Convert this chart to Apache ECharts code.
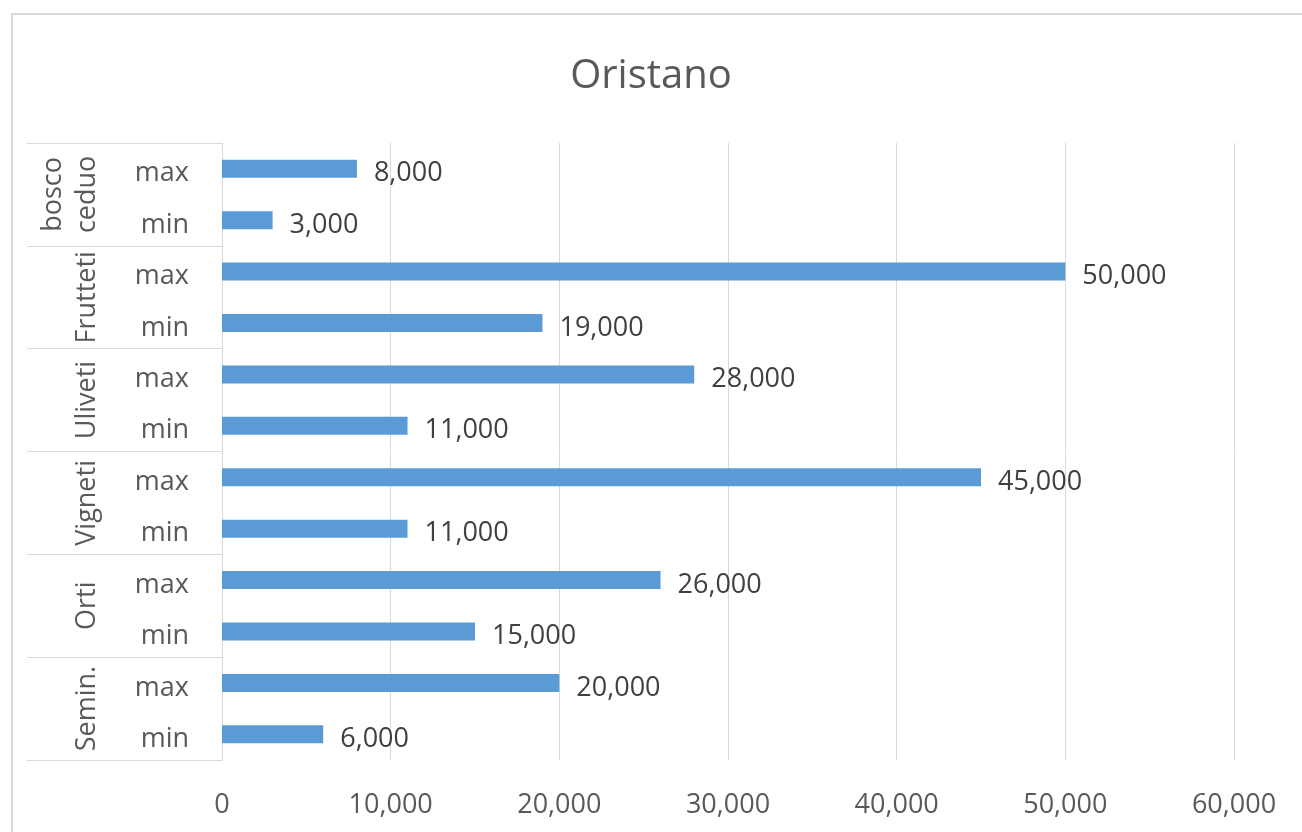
<!DOCTYPE html>
<html>
<head>
<meta charset="utf-8">
<script src="https://cdn.jsdelivr.net/npm/echarts@6/dist/echarts.min.js"></script>
<style>
html,body{margin:0;padding:0;background:#fff;}
#main{width:1302px;height:832px;}
</style>
</head>
<body>
<div id="main"></div>
<script>
// Data
const title = 'Oristano';
const groups = ['bosco\nceduo', 'Frutteti', 'Uliveti', 'Vigneti', 'Orti', 'Semin.'];
const subLabels = ['max', 'min'];
const values = [8000, 3000, 50000, 19000, 28000, 11000, 45000, 11000, 26000, 15000, 20000, 6000];
const xTicks = [0, 10000, 20000, 30000, 40000, 50000, 60000];

const categories = [];
groups.forEach(function (g) { subLabels.forEach(function (s) { categories.push(s); }); });

const fmt = function (v) { return Number(v).toLocaleString('en-US'); };
const FONT = 'Open Sans';
const GRID = '#d9d9d9';

const chart = echarts.init(document.getElementById('main'));
chart.setOption({
  backgroundColor: '#fff',
  animation: false,
  title: {
    text: title, left: 'center', top: 52,
    textStyle: { fontFamily: FONT, fontSize: 40, fontWeight: 'normal', color: '#595959' }
  },
  graphic: [{
    type: 'rect', shape: { x: 12, y: 14, width: 1400, height: 1000 },
    style: { fill: null, stroke: GRID, lineWidth: 2 }, silent: true, z: -1
  }],
  grid: { left: 222, right: 68, top: 143, bottom: 72, containLabel: false },
  xAxis: {
    type: 'value', min: xTicks[0], max: xTicks[xTicks.length - 1], interval: 10000,
    axisLine: { show: false }, axisTick: { show: false },
    splitLine: { show: true, lineStyle: { color: GRID, width: 1 } },
    axisLabel: { formatter: fmt, margin: 32, fontFamily: FONT, fontSize: 27, color: '#595959' }
  },
  yAxis: [{
    type: 'category', data: categories, inverse: true, position: 'left',
    axisLine: { show: true, lineStyle: { color: GRID, width: 1 } },
    axisTick: { show: true, interval: function (i) { return i % subLabels.length === 0; }, length: 195, lineStyle: { color: GRID, width: 1 } },
    axisLabel: { margin: 33, fontFamily: FONT, fontSize: 27, color: '#595959', interval: 0, verticalAlign: 'top', lineHeight: 10 }
  }, {
    type: 'category', data: groups, inverse: true, position: 'left', offset: 110,
    axisLine: { show: false }, axisTick: { show: false },
    axisLabel: { rotate: 90, margin: 8, fontFamily: FONT, fontSize: 27, color: '#595959', interval: 0, lineHeight: 34 }
  }],
  series: [{
    type: 'bar', yAxisIndex: 0, data: values, barWidth: 18,
    itemStyle: { color: '#5b9bd5' },
    label: { show: true, position: 'right', distance: 17, offset: [0, 5], formatter: function (p) { return fmt(p.value); },
      fontFamily: FONT, fontSize: 27, color: '#404040' }
  }, {
    type: 'bar', yAxisIndex: 1, data: groups.map(function () { return null; }), silent: true
  }]
});
</script>
</body>
</html>
